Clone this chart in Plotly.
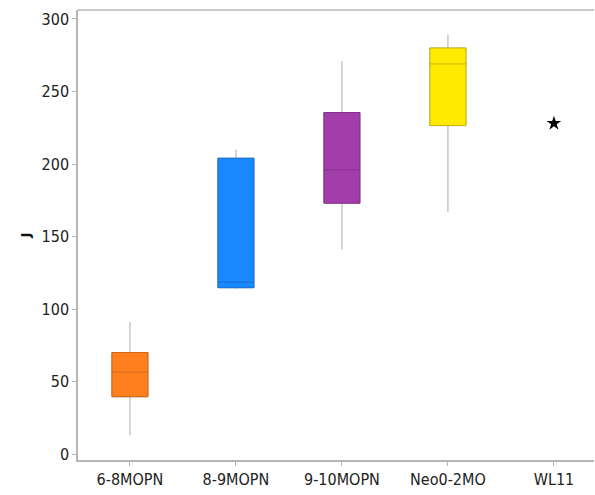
import plotly.graph_objects as go

# Groups and their five-number summaries
groups = ["6-8MOPN", "8-9MOPN", "9-10MOPN", "Neo0-2MO"]
lower = [13, 114, 141, 167]
q1 = [39.5, 114.7, 173, 226.5]
median = [56.5, 118.5, 196, 269]
q3 = [70, 204, 235.5, 280]
upper = [91, 210, 271, 289]

# Single observation group
single_group = ["WL11"]
single_value = [228]

all_groups = groups + single_group

fills = ["#FF7F1F", "#1A88FF", "#A23DAA", "#FFEA00"]
edges = ["#D06818", "#1470D0", "#86308C", "#C8B800"]

fig = go.Figure()

for g, lo, a, m, b, hi, fc, ec in zip(groups, lower, q1, median, q3, upper, fills, edges):
    # whiskers and filled box
    fig.add_trace(go.Box(
        x=[g], lowerfence=[lo], q1=[a], median=[m], q3=[b], upperfence=[hi],
        fillcolor=fc, line=dict(color="#ABABAB", width=1),
        whiskerwidth=0, width=0.34, boxpoints=False,
        hoverinfo="skip", showlegend=False,
    ))
    # box outline and median line
    fig.add_trace(go.Box(
        x=[g], lowerfence=[a], q1=[a], median=[m], q3=[b], upperfence=[b],
        fillcolor=fc, line=dict(color=ec, width=1),
        whiskerwidth=0, width=0.34, boxpoints=False,
        hoverinfo="skip", showlegend=False,
    ))

fig.add_trace(go.Scatter(
    x=single_group, y=single_value, mode="markers",
    marker=dict(symbol="star", size=11, color="black"),
    showlegend=False, hoverinfo="skip",
))

font_family = "DejaVu Sans Condensed, Liberation Sans Narrow, Liberation Sans, sans-serif"

# top frame line
fig.add_shape(type="line", xref="paper", yref="paper", x0=0, x1=1, y0=1, y1=1,
              line=dict(color="#B5B5B5", width=1.5))

fig.update_layout(
    width=595, height=495,
    margin=dict(l=78, r=1, t=10, b=35),
    paper_bgcolor="white", plot_bgcolor="white",
    boxmode="overlay",
    font=dict(family=font_family, size=16, color="#222222"),
    xaxis=dict(
        type="category", categoryorder="array", categoryarray=all_groups,
        range=[-0.49, 4.378],
        showgrid=False, zeroline=False,
        showline=True, linecolor="#B5B5B5", linewidth=1.5, mirror=False,
        ticks="outside", ticklen=4, tickcolor="#B5B5B5",
        tickfont=dict(family=font_family, size=16, color="#222222"),
    ),
    yaxis=dict(
        range=[-4.1, 306.2],
        tickvals=[0, 50, 100, 150, 200, 250, 300],
        showgrid=False, zeroline=False,
        showline=True, linecolor="#B5B5B5", linewidth=1.5, mirror=False,
        ticks="outside", ticklen=4, tickcolor="#B5B5B5",
        tickfont=dict(family=font_family, size=16, color="#222222"),
        title=dict(text="<b>J</b>", font=dict(family="DejaVu Sans", size=13, color="#111111"),
                   standoff=8),
    ),
)

fig.write_html("out.html")
